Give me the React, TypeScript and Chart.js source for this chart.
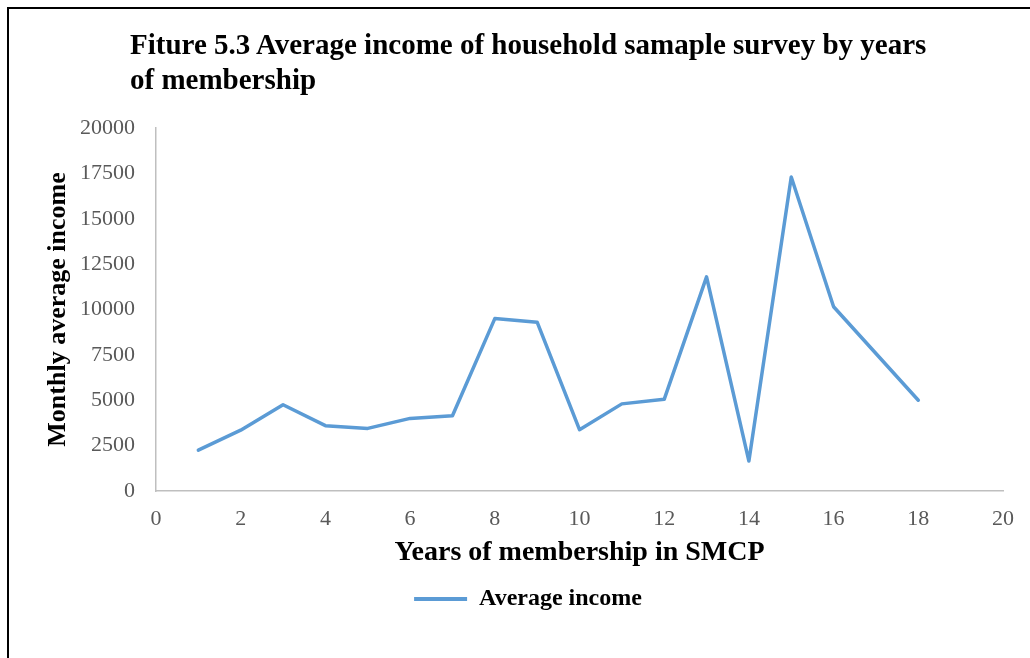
import React, { useEffect, useRef } from "react";
import { Chart, registerables } from "chart.js";

Chart.register(...registerables);

// Years of membership and the matching monthly average income
const years = [1, 2, 3, 4, 5, 6, 7, 8, 9, 10, 11, 12, 13, 14, 15, 16, 18];
const income = [2250, 3350, 4750, 3600, 3450, 4000, 4150, 9500, 9300, 3380, 4800, 5050, 11800, 1650, 17300, 10150, 5000];

const titleLines = [
  "Fiture 5.3 Average income of household samaple survey by years",
  "of membership",
];
const seriesName = "Average income";
const xTitle = "Years of membership in SMCP";
const yTitle = "Monthly average income";

const LINE_BLUE = "#5b9bd5";
const SERIF = "'Liberation Serif', 'DejaVu Serif', serif";

// Nudges the bottom legend sideways after layout so it sits under the axis title
const legendShift = {
  id: "legendShift",
  afterLayout(chart: any, _args: any, opts: any) {
    const lg = chart.legend;
    if (!lg) return;
    const dx = opts && typeof opts.dx === "number" ? opts.dx : 0;
    lg.left += dx;
    lg.right += dx;
    if (Array.isArray(lg.legendHitBoxes)) {
      lg.legendHitBoxes.forEach((b: any) => (b.left += dx));
    }
  },
};

export default function App() {
  const canvasRef = useRef<HTMLCanvasElement | null>(null);

  useEffect(() => {
    const canvas = canvasRef.current;
    if (!canvas) return;
    const points = years.map((x, i) => ({ x, y: income[i] }));
    const chart = new Chart(canvas, {
      type: "line",
      data: {
        datasets: [
          {
            label: seriesName,
            data: points,
            borderColor: LINE_BLUE,
            backgroundColor: LINE_BLUE,
            borderWidth: 3.5,
            pointRadius: 0,
            pointHoverRadius: 0,
            tension: 0,
            borderJoinStyle: "round",
            borderCapStyle: "round",
          },
        ],
      },
      plugins: [legendShift],
      options: {
        animation: false,
        responsive: false,
        maintainAspectRatio: false,
        layout: { padding: { top: 119, right: 27, left: 0, bottom: 37 } },
        plugins: {
          title: { display: false },
          tooltip: { enabled: false },
          legendShift: { dx: 22 },
          legend: {
            display: true,
            position: "bottom",
            labels: {
              color: "#000",
              boxWidth: 53,
              boxHeight: 4,
              padding: 11,
              font: { family: SERIF, size: 24, weight: "bold" },
              generateLabels: (c: Chart) =>
                Chart.defaults.plugins.legend.labels
                  .generateLabels(c)
                  .map((l: any) => ({ ...l, lineWidth: 0, fillStyle: LINE_BLUE })),
            },
          },
        } as any,
        scales: {
          x: {
            type: "linear",
            min: 0,
            max: 20,
            grid: { display: true, drawOnChartArea: false, drawTicks: false },
            border: { display: true, color: "#bfbfbf", width: 1.5 },
            ticks: {
              stepSize: 2,
              padding: 15,
              color: "#595959",
              font: { family: SERIF, size: 22 },
              maxRotation: 0,
            },
            title: {
              display: true,
              text: xTitle,
              color: "#000",
              font: { family: SERIF, size: 28, weight: "bold" },
              padding: { top: 0, bottom: 6 },
            },
            afterFit: (scale: any) => {
              scale.height = 85;
            },
          },
          y: {
            type: "linear",
            min: 0,
            max: 20000,
            grid: { display: true, drawOnChartArea: false, drawTicks: false },
            border: { display: true, color: "#bfbfbf", width: 1.5 },
            ticks: {
              stepSize: 2500,
              padding: 21,
              color: "#595959",
              font: { family: SERIF, size: 22 },
              callback: (v: any) => String(v),
            },
            title: {
              display: true,
              text: yTitle,
              color: "#000",
              font: { family: SERIF, size: 26, weight: "bold" },
              padding: { top: 34, bottom: 0 },
            },
            afterFit: (scale: any) => {
              scale.width = 147;
            },
          },
        },
      },
    });
    return () => chart.destroy();
  }, []);

  return (
    <div style={{ position: "absolute", left: 0, top: 0, width: 1030, height: 658, background: "#fff", overflow: "hidden" }}>
      <div
        style={{
          position: "absolute",
          left: 7,
          top: 7,
          width: 1040,
          height: 660,
          borderTop: "2px solid #000",
          borderLeft: "2px solid #000",
          boxSizing: "border-box",
        }}
      />
      <canvas
        ref={canvasRef}
        width={1021}
        height={649}
        style={{ position: "absolute", left: 9, top: 9, width: 1021, height: 649 }}
      />
      <div
        style={{
          position: "absolute",
          left: 130,
          top: 27,
          fontFamily: SERIF,
          fontWeight: "bold",
          fontSize: 29,
          lineHeight: "35px",
          color: "#000",
          whiteSpace: "nowrap",
        }}
      >
        {titleLines.map((t) => (
          <div key={t}>{t}</div>
        ))}
      </div>
    </div>
  );
}
